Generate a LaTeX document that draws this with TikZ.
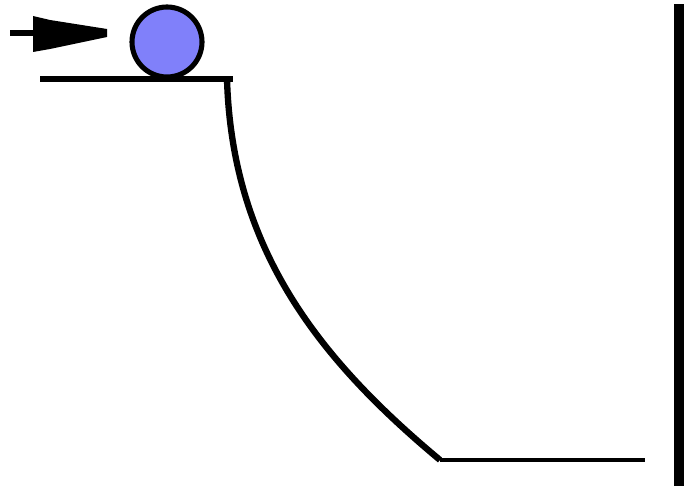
\documentclass[tikz,border=0pt]{standalone}
\definecolor{ballblue}{RGB}{128,128,250}

\begin{document}
\begin{tikzpicture}[x=0.02cm,y=-0.02cm,line join=round]
  \useasboundingbox (0,0) rectangle (684,486);
  % key points of the track
  \coordinate (ledgeL) at (40,79);
  \coordinate (ledgeR) at (233,79);
  \coordinate (lip)    at (227,79);
  \coordinate (foot)   at (440,460);
  \coordinate (floorR) at (645,460);
  \coordinate (ballc)  at (167,42);
  % ledge, slope and floor
  \draw[line width=3.4pt] (ledgeL) -- (ledgeR);
  \draw[line width=3.6pt] (lip) .. controls (232,250) and (320,360) .. (foot);
  \draw[line width=2.8pt] (foot) -- (floorR);
  % push arrow
  \draw[line width=3.4pt] (10,33) -- (35,33);
  \fill (33,16) -- (50,20) -- (107,29) -- (107,37) -- (50,49) -- (33,52) -- cycle;
  % ball
  \filldraw[draw=black, fill=ballblue, line width=2.9pt] (ballc) circle[radius=35];
  % wall
  \fill (674,4) rectangle (684,486);
\end{tikzpicture}
\end{document}
